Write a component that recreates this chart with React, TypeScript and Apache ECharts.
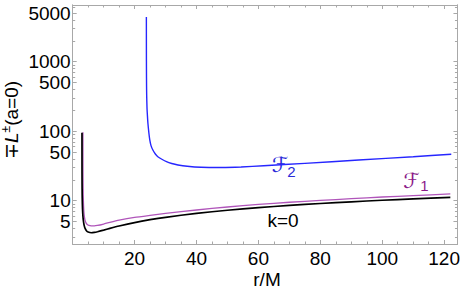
import React, { useEffect, useRef } from "react";
import * as echarts from "echarts";

// k=0 (black)
const rBlack = [3.001, 3.002, 3.004, 3.008, 3.015, 3.03, 3.06, 3.1, 3.15, 3.2, 3.3, 3.4, 3.55, 3.7, 4, 4.5, 5, 6, 7, 8, 10, 12, 15, 20, 25, 30, 40, 50, 60, 70, 80, 90, 100, 110, 122];
const LBlack = [94.9, 67.1, 47.5, 33.6, 24.6, 17.4, 12.4, 9.8, 8.13, 7.16, 6.02, 5.38, 4.79, 4.42, 4.0, 3.67, 3.54, 3.46, 3.5, 3.58, 3.78, 4.0, 4.33, 4.85, 5.33, 5.77, 6.58, 7.29, 7.95, 8.55, 9.12, 9.65, 10.15, 10.63, 11.18];

// F1 (purple)
const rF1 = [3.3015, 3.303, 3.306, 3.31, 3.32, 3.35, 3.4, 3.5, 3.65, 3.8, 4.0, 4.3, 4.7, 5.2, 6, 7, 8, 10, 12, 15, 20, 25, 30, 40, 50, 60, 70, 80, 90, 100, 110, 122];
const LF1 = [97, 68, 48, 37, 26.5, 17, 12, 8.6, 6.6, 5.8, 5.2, 4.8, 4.55, 4.42, 4.34, 4.33, 4.4, 4.62, 4.88, 5.25, 5.75, 6.15, 6.55, 7.35, 8.12, 8.85, 9.5, 10.1, 10.7, 11.3, 11.85, 12.5];

// F2 (blue)
const rF2 = [23.8, 23.81, 23.83, 23.86, 23.9, 24.0, 24.15, 24.3, 24.6, 24.9, 25.3, 25.9, 26.7, 27.5, 28.8, 30.3, 32, 34, 37, 41.5, 48, 54.4, 61.7, 75, 92.4, 110, 122.3];
const LF2 = [4400, 1400, 750, 450, 330, 220, 165, 130, 95, 75, 62, 53.6, 47, 43, 39.5, 36.4, 34.3, 32.7, 31.3, 30.3, 30.1, 30.6, 31.9, 34.5, 38.5, 43, 46.6];

const xLabels = [20, 40, 60, 80, 100, 120];
const xMajorTicks = [0, 20, 40, 60, 80, 100, 120];
const xMinorTicks = [5, 10, 15, 25, 30, 35, 45, 50, 55, 65, 70, 75, 85, 90, 95, 105, 110, 115];
const yLabels = [5, 10, 50, 100, 500, 1000, 5000];
const yMinorTicks = [3, 4, 6, 7, 8, 9, 20, 30, 40, 60, 70, 80, 90, 200, 300, 400, 600, 700, 800, 900, 2000, 3000, 4000, 6000];

const X_MIN = 0;
const X_MAX = 124.3;
const Y_MIN = 0.377;
const Y_MAX = 3.816;
const AX = "#a8a8a8";
const FONT = "Liberation Sans";

export default function App() {
  const ref = useRef<HTMLDivElement>(null);
  useEffect(() => {
    if (!ref.current) return;
    const chart = echarts.init(ref.current, undefined, { renderer: "svg" });
    const lg = (v: number) => Math.log10(v);

    const mkX = (position: string, ticks: number[], len: number, labels: boolean) => ({
      type: "value",
      position,
      min: X_MIN,
      max: X_MAX,
      axisLine: { show: true, onZero: false, lineStyle: { color: AX, width: 1 } },
      axisTick: { show: true, inside: true, length: len, customValues: ticks, lineStyle: { color: AX, width: 1 } },
      axisLabel: labels
        ? { show: true, customValues: xLabels, margin: 5, color: "#000", fontSize: 19, fontFamily: FONT }
        : { show: false },
      splitLine: { show: false },
    });
    const mkY = (position: string, ticks: number[], len: number, labels: boolean) => ({
      type: "value",
      position,
      min: Y_MIN,
      max: Y_MAX,
      axisLine: { show: true, onZero: false, lineStyle: { color: AX, width: 1 } },
      axisTick: { show: true, inside: true, length: len, customValues: ticks.map(lg), lineStyle: { color: AX, width: 1 } },
      axisLabel: labels
        ? {
            show: true,
            customValues: yLabels.map(lg),
            margin: 2,
            color: "#000",
            fontSize: 19,
            fontFamily: FONT,
            formatter: (v: number) => String(Math.round(Math.pow(10, v))),
          }
        : { show: false },
      splitLine: { show: false },
    });

    const mkSeries = (rs: number[], Ls: number[], color: string, width: number) => ({
      type: "line",
      xAxisIndex: 0,
      yAxisIndex: 0,
      data: rs.map((r, i) => [r, lg(Ls[i])]),
      showSymbol: false,
      symbol: "none",
      lineStyle: { color, width },
      smooth: 0.2,
      clip: true,
    });

    chart.setOption({
      animation: false,
      backgroundColor: "#fff",
      grid: { left: 72.7, top: 5, width: 386.3, height: 239, containLabel: false },
      xAxis: [
        mkX("bottom", xMajorTicks, 4, true),
        mkX("bottom", xMinorTicks, 2.5, false),
        mkX("top", xMajorTicks, 4, false),
        mkX("top", xMinorTicks, 2.5, false),
      ],
      yAxis: [
        mkY("left", yLabels, 4, true),
        mkY("left", yMinorTicks, 2.5, false),
        mkY("right", yLabels, 4, false),
        mkY("right", yMinorTicks, 2.5, false),
      ],
      series: [
        mkSeries(rF1, LF1, "#b055ba", 1.3),
        mkSeries(rBlack, LBlack, "#000000", 1.7),
        mkSeries(rF2, LF2, "#2626ff", 1.4),
      ],
      graphic: [
        {
          type: "text",
          x: 267,
          y: 279,
          style: { text: "r/M", fontSize: 19, fontFamily: FONT, fill: "#000", align: "center", verticalAlign: "middle" },
        },
        {
          type: "text",
          x: 11.5,
          y: 120,
          rotation: Math.PI / 2,
          style: {
            text: "{n|∓}{i|L}{s|±}{n|(a=0)}",
            align: "center",
            verticalAlign: "middle",
            rich: {
              n: { fontSize: 19, fontFamily: FONT, fill: "#000", lineHeight: 24 },
              i: { fontSize: 19, fontFamily: FONT, fontStyle: "italic", fill: "#000", lineHeight: 24 },
              s: { fontSize: 12, fontFamily: FONT, fill: "#000", lineHeight: 12, verticalAlign: "top" },
            },
          },
        },
        {
          type: "text",
          x: 283,
          y: 220,
          style: { text: "k=0", fontSize: 19, fontFamily: FONT, fill: "#000", align: "center", verticalAlign: "middle" },
        },
        {
          type: "text",
          x: 280,
          y: 165,
          style: { text: "ℱ", fontSize: 21, fontFamily: "DejaVu Sans", fill: "#2a2ad8", align: "center", verticalAlign: "middle" },
        },
        {
          type: "text",
          x: 291.5,
          y: 171,
          style: { text: "2", fontSize: 15, fontFamily: FONT, fill: "#2a2ad8", align: "center", verticalAlign: "middle" },
        },
        {
          type: "text",
          x: 411.5,
          y: 181,
          style: { text: "ℱ", fontSize: 21, fontFamily: "DejaVu Sans", fill: "#8b1a89", align: "center", verticalAlign: "middle" },
        },
        {
          type: "text",
          x: 424.5,
          y: 185,
          style: { text: "1", fontSize: 15, fontFamily: FONT, fill: "#8b1a89", align: "center", verticalAlign: "middle" },
        },
      ],
    });
    return () => chart.dispose();
  }, []);
  return (
    <div
      ref={ref}
      style={{ position: "fixed", left: 0, top: 0, width: 463, height: 295, background: "#fff" }}
    />
  );
}
